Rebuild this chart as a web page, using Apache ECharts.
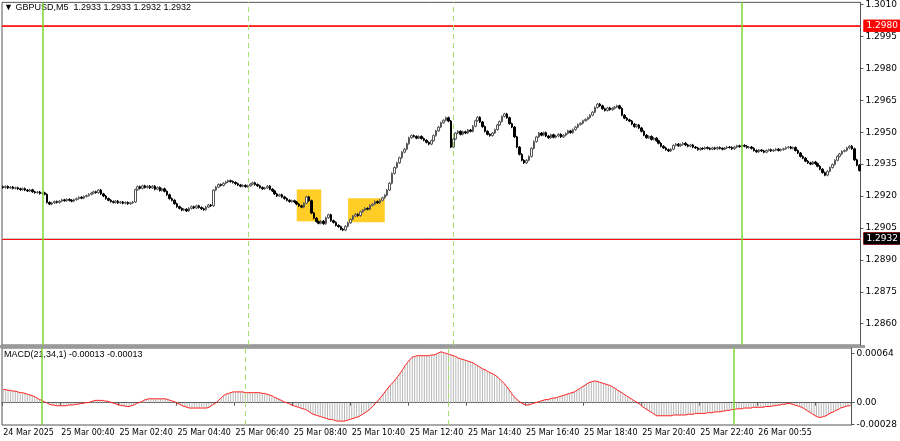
<!DOCTYPE html>
<html>
<head>
<meta charset="utf-8">
<script src="https://cdn.jsdelivr.net/npm/echarts@6/dist/echarts.min.js"></script>
<style>
    html, body { margin: 0; padding: 0; background: #fff; }
    #main { width: 900px; height: 441px; }
</style>
</head>
<body>
<div id="main"></div>
<script type="text/javascript">
    // closes in pips above 1.2900
    var closes = [
        24,24.5,23.8,24.2,23.6,23.9,23.4,23.0,23.5,22.8,
        22.4,22.9,22.0,21.6,21.9,21.2,21.5,20.8,17.0,16.2,
        16.8,17.4,17.0,17.6,18.2,17.8,18.4,18.0,17.6,18.3,
        18.8,19.4,19.0,19.8,20.2,20.8,21.4,22.0,21.6,22.8,
        21.0,20.0,18.8,18.0,17.4,17.0,17.6,16.8,17.2,16.6,
        17.0,16.4,16.8,17.2,23.0,24.4,23.6,24.8,24.0,24.6,
        23.8,24.6,23.2,24.0,22.6,23.4,22.2,20.6,18.8,18.0,
        16.4,15.0,14.2,13.4,13.8,13.0,14.2,15.0,14.4,15.4,
        14.6,14.0,13.6,14.8,15.8,15.4,22.8,24.2,25.4,25.0,
        26.0,26.6,27.2,26.8,26.4,25.8,25.2,24.6,25.0,24.4,
        24.8,25.6,26.2,25.4,24.8,24.0,23.4,23.8,24.6,23.2,
        22.4,21.0,20.0,20.6,19.6,18.8,18.0,17.4,17.8,17.2,
        16.2,15.4,14.8,16.6,19.6,17.8,12.0,9.6,8.0,7.2,
        8.2,7.0,9.8,11.2,8.4,7.6,6.2,5.6,4.4,4.0,
        5.8,7.4,9.0,10.6,11.4,10.8,12.6,13.4,14.2,13.8,
        15.6,16.2,17.4,16.8,18.0,19.2,20.4,22.8,26.0,30.6,
        33.4,35.6,38.0,40.6,42.0,44.6,47.4,48.4,48.0,47.2,
        48.0,47.0,46.2,45.2,44.4,46.0,48.4,50.6,52.4,54.4,
        55.6,56.8,55.2,43.0,46.8,49.6,50.4,49.0,50.2,49.6,
        51.0,50.4,52.8,55.4,57.0,54.8,52.6,50.4,49.0,48.4,
        49.6,51.2,53.4,55.0,57.4,58.6,56.8,54.0,52.4,47.8,
        43.0,39.6,36.8,35.6,36.8,38.6,42.4,45.6,47.8,49.6,
        48.6,49.8,48.2,47.4,48.8,47.6,48.2,49.0,47.8,48.6,
        49.4,50.6,49.8,51.2,52.4,53.6,54.2,55.4,56.0,56.8,
        58.0,59.4,61.6,63.2,62.4,61.0,60.2,61.4,60.6,61.2,
        61.8,62.4,61.2,58.0,56.6,55.8,55.2,53.8,52.6,53.4,
        52.0,50.4,48.6,47.4,48.0,46.6,47.2,46.0,44.8,43.4,
        42.6,41.8,41.2,42.0,43.8,44.4,43.6,44.2,44.8,44.0,
        43.4,44.0,43.0,42.6,41.8,42.4,42.2,42.8,42.4,42.0,
        42.6,42.2,42.8,42.4,42.0,42.6,43.0,42.8,42.2,43.0,
        43.6,43.2,43.8,43.4,42.8,43.0,42.4,41.4,40.8,41.6,
        41.2,40.6,41.4,41.8,41.2,41.6,42.0,41.4,41.8,42.2,
        42.8,43.0,42.4,42.8,41.4,40.2,38.6,37.8,36.4,35.6,
        35.0,36.0,35.2,34.0,32.6,31.0,29.8,31.6,33.4,34.8,
        36.8,38.6,39.8,41.0,41.4,42.6,43.4,42.2,37.0,34.5,
        32.0
    ];
    // MACD(21,34,1) in units of 1e-5
    var macd = [
        17,17,16,16,15,15,14,13,13,12,
        11,10,9,8,6,4,3,1,0,-2,
        -3,-3,-4,-4,-4,-4,-4,-3,-3,-3,
        -2,-2,-1,-1,0,0,1,2,3,3,
        3,3,2,2,1,0,-1,-2,-3,-4,
        -4,-5,-5,-4,-3,-1,0,1,3,4,
        5,5,5,5,5,5,5,5,4,3,
        2,1,-1,-2,-4,-5,-6,-7,-7,-7,
        -7,-7,-7,-7,-7,-6,-4,-2,0,3,
        6,9,11,12,13,14,14,14,14,14,
        13,13,13,13,13,13,13,12,12,11,
        10,9,7,6,4,3,1,0,-1,-3,
        -4,-5,-6,-7,-8,-9,-11,-13,-15,-16,
        -17,-18,-19,-20,-21,-22,-22,-23,-24,-24,
        -24,-24,-23,-22,-21,-20,-19,-18,-16,-14,
        -12,-10,-7,-4,0,3,7,11,15,19,
        23,26,30,34,38,43,48,52,56,59,
        60,61,61,61,61,61,61,62,62,63,
        65,66,65,64,63,62,61,60,58,57,
        56,55,54,53,52,50,48,46,44,43,
        41,39,38,36,34,31,28,25,21,17,
        12,8,5,2,0,-2,-3,-3,-2,-1,
        0,1,2,3,4,4,5,6,6,7,
        8,9,10,11,12,13,14,16,18,20,
        22,24,26,27,28,28,27,26,25,24,
        23,22,20,18,16,14,12,10,8,6,
        4,2,0,-2,-5,-7,-9,-11,-13,-15,
        -17,-17,-17,-17,-17,-17,-17,-16,-16,-16,
        -16,-16,-16,-15,-15,-15,-14,-14,-14,-14,
        -14,-13,-13,-13,-12,-12,-12,-11,-11,-10,
        -10,-9,-9,-8,-8,-8,-7,-7,-7,-7,
        -6,-6,-6,-6,-6,-5,-5,-5,-4,-4,
        -3,-3,-2,-2,-1,-1,-2,-3,-4,-5,
        -6,-8,-10,-12,-14,-16,-18,-19,-19,-18,
        -17,-15,-13,-12,-10,-9,-7,-6,-5,-4,
        -4
    ];
    var priceTicks = [1.2860,1.2875,1.2890,1.2905,1.2920,1.2935,1.2950,1.2965,1.2980,1.2995,1.3010];
    var macdTicks = [0.00064, 0, -0.00028];
    var levels = [1.2993, 1.2980, 1.2913, 1.2860];
    var lastPrice = 1.2932;
    var dayLines = [16, 302];       // bar index of day separators
    var sessionLines = [100, 184];  // dashed lines
    var boxes = [[120, 130, 1.29231, 1.29081], [141, 156, 1.29189, 1.29077]];

    // time categories: 5-minute bars from 24 Mar 22:40, with the broker gaps
    var skip = {'25 Mar 23:55': 1, '26 Mar 00:00': 1, '26 Mar 00:05': 1, '26 Mar 01:00': 1};
    var cats = [];
    var t = Date.UTC(2025, 2, 24, 22, 40);
    while (cats.length < closes.length) {
        var d = new Date(t);
        var hh = ('0' + d.getUTCHours()).slice(-2), mm = ('0' + d.getUTCMinutes()).slice(-2);
        var key = d.getUTCDate() + ' Mar ' + hh + ':' + mm;
        if (!skip[key]) cats.push(key);
        t += 5 * 60000;
    }

    var candles = [];
    for (var i = 0; i < closes.length; i++) {
        var o = i === 0 ? closes[0] + 0.4 : closes[i - 1];
        var c = closes[i];
        var lo = Math.min(o, c) - 0.5, hi = Math.max(o, c) + 0.5;
        candles.push([1.29 + o / 10000, 1.29 + c / 10000, 1.29 + lo / 10000, 1.29 + hi / 10000]);
    }
    var priceClose = closes.map(function (v) { return 1.29 + v / 10000; });
    var macdData = macd.map(function (v) { return v / 100000; });

    function vertLines() {
        var out = [];
        dayLines.forEach(function (b) {
            out.push({xAxis: b, lineStyle: {color: '#7ed62a', type: 'solid', width: 1.5}});
        });
        sessionLines.forEach(function (b) {
            out.push({xAxis: b, lineStyle: {color: '#a8e070', type: [5, 4], width: 1}});
        });
        return out;
    }

    var hLines = levels.map(function (p, k) {
        return {
            yAxis: p,
            lineStyle: {color: k === 0 ? '#ff7070' : '#ff0000', width: k === 0 ? 1 : 1.5, type: 'solid'},
            label: {show: true, position: 'end', formatter: p.toFixed(4), color: '#fff',
                backgroundColor: '#ff0000', padding: [2, 3, 1, 3], fontSize: 9, distance: 3}
        };
    });
    hLines.push({
        yAxis: lastPrice,
        lineStyle: {color: '#c8c8c8', width: 1, type: 'solid'},
        label: {show: true, position: 'end', formatter: lastPrice.toFixed(4), color: '#fff',
            backgroundColor: '#000', padding: [2, 3, 1, 3], fontSize: 9, distance: 3}
    });

    var labelEvery = function (idx) { return idx % 24 === 0; };

    var myChart = echarts.init(document.getElementById('main'));
    myChart.setOption({
        animation: false,
        backgroundColor: '#fff',
        textStyle: {fontFamily: 'DejaVu Sans'},
        graphic: [
            {type: 'text', left: 4, top: 3, style: {text: '\u25BC GBPUSD,M5  1.2933 1.2933 1.2932 1.2932', fontSize: 9, fill: '#000'}},
            {type: 'text', left: 4, top: 350, style: {text: 'MACD(21,34,1) -0.00013 -0.00013', fontSize: 9, fill: '#000'}},
            {type: 'rect', shape: {x: 0, y: 345, width: 865, height: 3}, style: {fill: '#9a9a9a'}}
        ],
        grid: [
            {left: 2, right: 36, top: 0, height: 345, show: true, borderColor: '#555', borderWidth: 1},
            {left: 2, right: 36, top: 348, height: 77, show: true, borderColor: '#555', borderWidth: 1}
        ],
        xAxis: [
            {type: 'category', data: cats, gridIndex: 0, boundaryGap: true,
                axisLine: {show: false}, axisTick: {show: false}, axisLabel: {show: false}, splitLine: {show: false}},
            {type: 'category', data: cats, gridIndex: 1, boundaryGap: true,
                axisLine: {lineStyle: {color: '#555'}},
                axisTick: {show: true, interval: labelEvery, length: 3, lineStyle: {color: '#555'}},
                axisLabel: {
                    interval: labelEvery, hideOverlap: false, showMaxLabel: false,
                    align: 'left', fontSize: 8, color: '#000', margin: 4,
                    formatter: function (v, idx) { return idx === 0 ? '24 Mar 2025' : v; }
                },
                splitLine: {show: false}}
        ],
        yAxis: [
            {type: 'value', gridIndex: 0, position: 'right', min: 1.2850, max: 1.3011,
                axisLine: {show: true, lineStyle: {color: '#555'}},
                axisTick: {show: true, customValues: priceTicks, length: 3, lineStyle: {color: '#555'}},
                axisLabel: {customValues: priceTicks, fontSize: 9, color: '#000', margin: 5,
                    formatter: function (v) { return v.toFixed(4); }},
                splitLine: {show: false}},
            {type: 'value', gridIndex: 1, position: 'right', min: -0.00029, max: 0.00071,
                axisLine: {show: true, lineStyle: {color: '#555'}},
                axisTick: {show: true, customValues: macdTicks, length: 3, lineStyle: {color: '#555'}},
                axisLabel: {customValues: macdTicks, fontSize: 9, color: '#000', margin: 5,
                    formatter: function (v) { return v === 0 ? '0.00' : v.toFixed(5); }},
                splitLine: {show: false}}
        ],
        series: [
            {
                name: 'levels', type: 'line', xAxisIndex: 0, yAxisIndex: 0, data: priceClose,
                showSymbol: false, silent: true, lineStyle: {opacity: 0}, z: 1,
                markLine: {symbol: 'none', silent: true, label: {show: false},
                    data: hLines.concat(vertLines())}
            },
            {
                name: 'GBPUSD', type: 'candlestick', xAxisIndex: 0, yAxisIndex: 0,
                data: candles, barWidth: 2, z: 3,
                itemStyle: {color: '#ffffff', color0: '#000000', borderColor: '#555555', borderColor0: '#000000', borderWidth: 1},
                markArea: {silent: true, itemStyle: {color: 'rgba(255,196,0,0.85)'},
                    data: boxes.map(function (b) { return [{xAxis: b[0], yAxis: b[2]}, {xAxis: b[1], yAxis: b[3]}]; })}
            },
            {
                name: 'hist', type: 'bar', xAxisIndex: 1, yAxisIndex: 1, data: macdData,
                barWidth: 1, itemStyle: {color: '#b8b8b8'}
            },
            {
                name: 'macd', type: 'line', xAxisIndex: 1, yAxisIndex: 1, data: macdData,
                showSymbol: false, lineStyle: {color: '#ff2020', width: 1},
                markLine: {symbol: 'none', silent: true, label: {show: false}, data: vertLines()}
            }
        ]
    });
</script>
</body>
</html>
